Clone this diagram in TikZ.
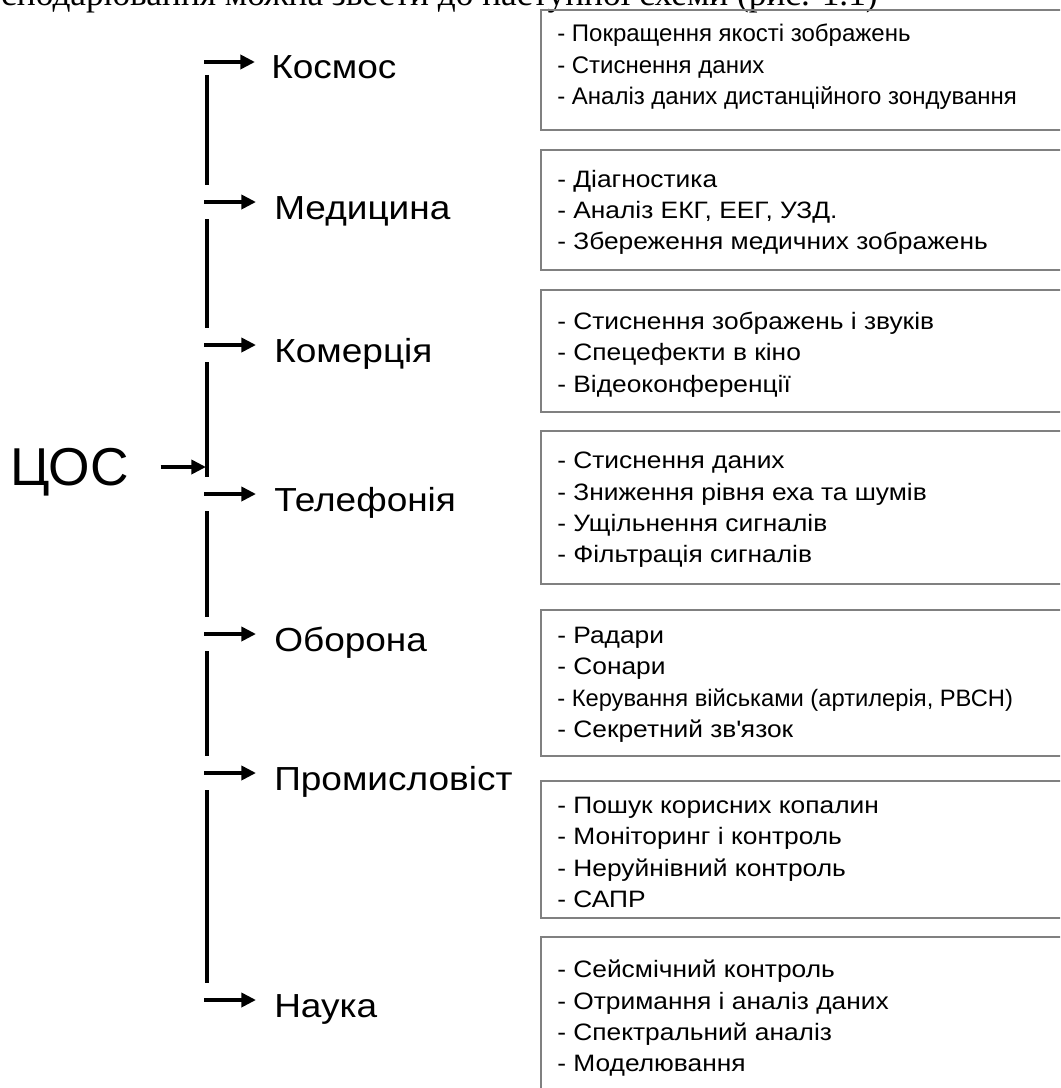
\documentclass[tikz,border=0pt]{standalone}
\usepackage{fontspec}
\setmainfont{Liberation Sans}
\newfontfamily\widesans{Liberation Sans}[FakeStretch=1.11]
\newfontfamily\pageserif{Liberation Serif}
\usetikzlibrary{arrows.meta,positioning}
\definecolor{boxgray}{HTML}{808080}
\newcommand\straightapos{\XeTeXglyph\the\XeTeXcharglyph"27\relax}

\begin{document}
\begin{tikzpicture}[x=0.75pt, y=-0.75pt,
    trunk/.style={line width=3pt},
    branch/.style={line width=3pt, -{Triangle[length=11pt,width=10.5pt]}},
    field/.style={inner sep=0pt, anchor=base west, font=\widesans\fontsize{25}{30}\selectfont},
    infobox/.style={draw=boxgray, line width=2.2pt},
    items/.style={inner sep=0pt, anchor=north west, align=left,
      font=\widesans\fontsize{17.8}{23.4}\selectfont}]
  \clip (0,0) rectangle (1060,1088);

  % cut-off line of the page text
  \node[inner sep=0pt, anchor=base east, font=\pageserif\fontsize{26.5}{30}\selectfont]
    (pagetext) at (878,6) {господарювання можна звести до наступної схеми (рис. 1.1)};

  % rows on the trunk
  \coordinate (rKos) at (207,62);
  \coordinate (rMed) at (207,202);
  \coordinate (rKom) at (207,345);
  \coordinate (rTel) at (207,494);
  \coordinate (rObo) at (207,634);
  \coordinate (rPro) at (207,773);
  \coordinate (rNau) at (207,1000);

  % trunk, broken at every branch
  \draw[trunk] ([yshift=-9.75pt]rKos) -- ([yshift=12.75pt]rMed);
  \draw[trunk] ([yshift=-12.75pt]rMed) -- ([yshift=12.75pt]rKom);
  \draw[trunk] ([yshift=-12.75pt]rKom) -- ([yshift=12.75pt]rTel);
  \draw[trunk] ([yshift=-12.75pt]rTel) -- ([yshift=12.75pt]rObo);
  \draw[trunk] ([yshift=-12.75pt]rObo) -- ([yshift=12.75pt]rPro);
  \draw[trunk] ([yshift=-12.75pt]rPro) -- ([yshift=12.75pt]rNau);

  % root
  \node[inner sep=0pt, anchor=base west, font=\fontsize{40}{44}\selectfont]
    (dsp) at (10,485) {ЦОС};
  \coordinate (hub) at (206,467);
  \draw[branch] ([xshift=-34pt]hub) -- (hub);

  % fields
  \node[field] (kos) at (271,79)   {Космос};
  \node[field] (med) at (274,219)  {Медицина};
  \node[field] (kom) at (274,362)  {Комерція};
  \node[field] (tel) at (274,511)  {Телефонія};
  \node[field] (obo) at (274,651)  {Оборона};
  \node[field] (pro) at (274,790)  {Промисловіст};
  \node[field] (nau) at (274,1017) {Наука};

  \draw[branch] ([xshift=-2.25pt]rKos) -- ([xshift=-12pt]rKos -| kos.west);
  \draw[branch] ([xshift=-2.25pt]rMed) -- ([xshift=-13.5pt]rMed -| med.west);
  \draw[branch] ([xshift=-2.25pt]rKom) -- ([xshift=-13.5pt]rKom -| kom.west);
  \draw[branch] ([xshift=-2.25pt]rTel) -- ([xshift=-13.5pt]rTel -| tel.west);
  \draw[branch] ([xshift=-2.25pt]rObo) -- ([xshift=-13.5pt]rObo -| obo.west);
  \draw[branch] ([xshift=-2.25pt]rPro) -- ([xshift=-13.5pt]rPro -| pro.west);
  \draw[branch] ([xshift=-2.25pt]rNau) -- ([xshift=-13.5pt]rNau -| nau.west);

  % boxes with the applications
  \draw[infobox] (541,10)  rectangle (1066,130);
  \draw[infobox] (541,150) rectangle (1066,270);
  \draw[infobox] (541,290) rectangle (1066,412);
  \draw[infobox] (541,431) rectangle (1066,584);
  \draw[infobox] (541,610) rectangle (1066,756);
  \draw[infobox] (541,781) rectangle (1066,918);
  \draw[infobox] (541,937) rectangle (1066,1100);

  \node[items, font=\normalfont\fontsize{18}{23.4}\selectfont] (kositems) at (557,24)
    {- Покращення якості зображень\\- Стиснення даних\\- Аналіз даних дистанційного зондування};
  \node[items] (meditems) at (557,170)
    {- Діагностика\\- Аналіз ЕКГ, ЕЕГ, УЗД.\\- Збереження медичних зображень};
  \node[items] (komitems) at (557,312)
    {- Стиснення зображень і звуків\\- Спецефекти в кіно\\- Відеоконференції};
  \node[items] (telitems) at (557,452)
    {- Стиснення даних\\- Зниження рівня еха та шумів\\- Ущільнення сигналів\\- Фільтрація сигналів};
  \node[items] (oboitems) at (557,627)
    {- Радари\\- Сонари\\{\normalfont - Керування військами (артилерія, РВСН)}\\- Секретний зв\straightapos язок};
  \node[items] (proitems) at (557,797)
    {- Пошук корисних копалин\\- Моніторинг і контроль\\- Неруйнівний контроль\\- САПР};
  \node[items] (nauitems) at (557,960)
    {- Сейсмічний контроль\\- Отримання і аналіз даних\\- Спектральний аналіз\\- Моделювання};
\end{tikzpicture}
\end{document}
